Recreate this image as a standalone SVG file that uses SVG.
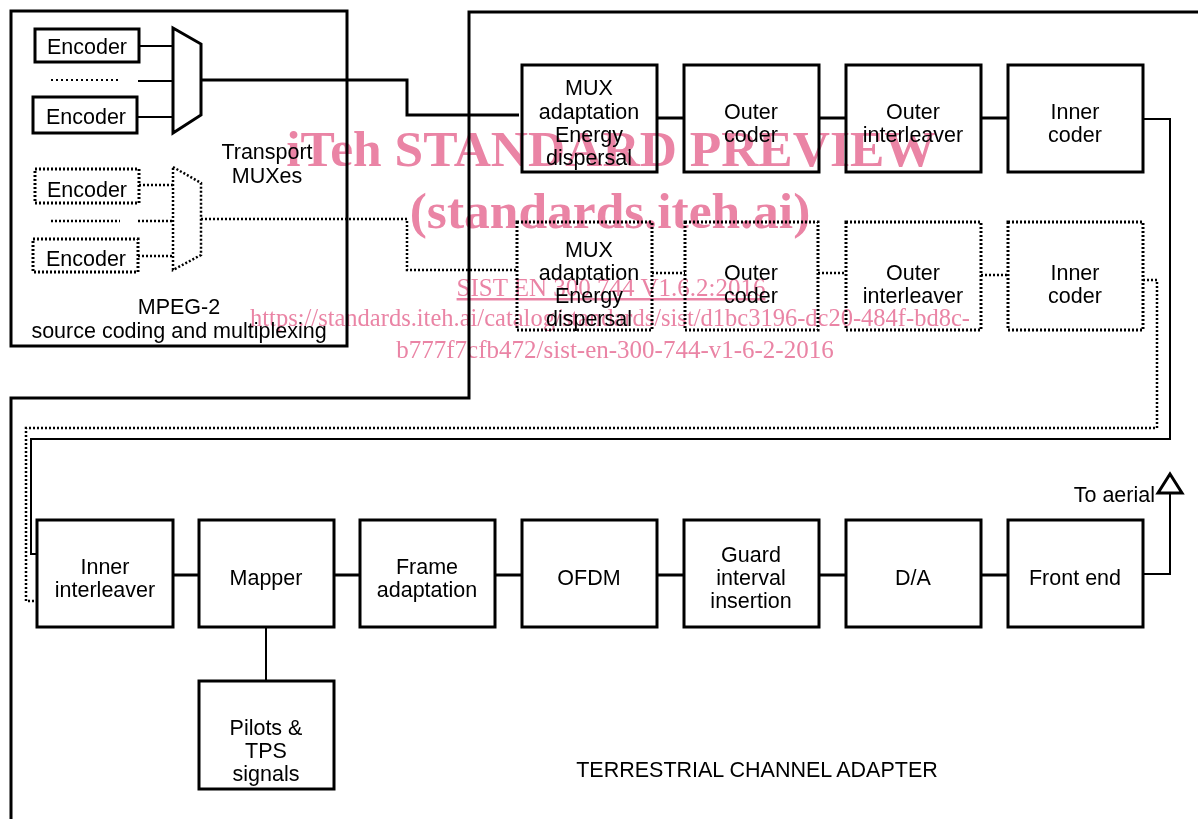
<svg xmlns="http://www.w3.org/2000/svg" width="1198" height="819" viewBox="0 0 1198 819">
<style>
.box{fill:#fff;stroke:#000;stroke-width:3}
.dbox{fill:#fff;stroke:#000;stroke-width:3;stroke-dasharray:2 2}
.ln{fill:none;stroke:#000;stroke-width:2}
.thk{fill:none;stroke:#000;stroke-width:3}
.dln{fill:none;stroke:#000;stroke-width:2.5;stroke-dasharray:2 2}
text{font-family:"Liberation Sans",Arial,sans-serif;font-size:21.5px;fill:#000;text-anchor:middle}
text.wm{font-family:"Liberation Serif","Times New Roman",serif;fill:#ea84a5}
#watermark{mix-blend-mode:multiply}
text.big{font-size:51.5px;font-weight:bold}
text.sm{font-size:25px}
</style>
<rect width="1198" height="819" fill="#fff"/>
<g id="frames">
<rect x="11" y="11" width="336" height="335" class="box" fill="none"/>
<path d="M1198 12 H469 V398 H11 V819" class="thk"/>
</g>
<g id="connectors">
<path d="M139 46 H173 M138 81 H173 M137 117 H173" class="ln"/>
<path d="M51 80 H118" class="ln" stroke-dasharray="2 3"/>
<path d="M201 80 H407 V115 H519" class="thk"/>
<path d="M139 185 H173 M138 221 H173 M138 256 H173 M51 221 H120" class="dln"/>
<path d="M201 219 H407 V270 H517" class="dln"/>
<path d="M657 118 H684 M819 118 H846 M981 118 H1008" class="thk"/>
<path d="M652 273 H685 M818 273 H846 M981 275 H1007" class="dln"/>
<path d="M1143 119 H1170 V439 H31 V554 H37" class="ln"/>
<path d="M1143 280 H1157 V428 H26 V601 H37" class="dln"/>
<path d="M173 575 H199 M334 575 H360 M495 575 H522 M657 575 H684 M819 575 H846 M981 575 H1008" class="thk"/>
<path d="M1143 574 H1170 V493" class="ln"/>
<polygon points="1158,493 1182,493 1170,474" fill="#fff" stroke="#000" stroke-width="3"/>
<path d="M266 627 V681" class="ln"/>
</g>
<g id="enc1"><rect x="35" y="29" width="104" height="33" class="box"/><text x="87" y="54">Encoder</text></g>
<g id="enc2"><rect x="33" y="97" width="104" height="36" class="box"/><text x="86" y="124">Encoder</text></g>
<g id="enc3"><rect x="35" y="169" width="104" height="34" class="dbox"/><text x="87" y="197">Encoder</text></g>
<g id="enc4"><rect x="33" y="239" width="105" height="33" class="dbox"/><text x="86" y="266">Encoder</text></g>
<g id="mux1"><polygon points="173,28 201,44 201,115 173,133" fill="#fff" stroke="#000" stroke-width="3"/></g>
<g id="mux2"><polygon points="173,167 201,183 201,255 173,270" fill="#fff" stroke="#000" stroke-width="2.5" stroke-dasharray="2 2"/></g>
<g id="lbl-mpeg">
<text x="267" y="159">Transport</text><text x="267" y="183">MUXes</text>
<text x="179" y="314">MPEG-2</text><text x="179" y="338">source coding and multiplexing</text>
</g>
<g id="muxad"><rect x="522" y="65" width="135" height="107" class="box"/><text x="589" y="95">MUX</text><text x="589" y="119">adaptation</text><text x="589" y="142">Energy</text><text x="589" y="165">dispersal</text></g>
<g id="outc"><rect x="684" y="65" width="135" height="107" class="box"/><text x="751" y="119">Outer</text><text x="751" y="142">coder</text></g>
<g id="outi"><rect x="846" y="65" width="135" height="107" class="box"/><text x="913" y="119">Outer</text><text x="913" y="142">interleaver</text></g>
<g id="innc"><rect x="1008" y="65" width="135" height="107" class="box"/><text x="1075" y="119">Inner</text><text x="1075" y="142">coder</text></g>
<g id="muxad2"><rect x="517" y="222" width="135" height="108" class="dbox"/><text x="589" y="257">MUX</text><text x="589" y="280">adaptation</text><text x="589" y="303">Energy</text><text x="589" y="326">dispersal</text></g>
<g id="outc2"><rect x="685" y="222" width="133" height="108" class="dbox"/><text x="751" y="280">Outer</text><text x="751" y="303">coder</text></g>
<g id="outi2"><rect x="846" y="222" width="135" height="108" class="dbox"/><text x="913" y="280">Outer</text><text x="913" y="303">interleaver</text></g>
<g id="innc2"><rect x="1008" y="222" width="135" height="108" class="dbox"/><text x="1075" y="280">Inner</text><text x="1075" y="303">coder</text></g>
<g id="inni"><rect x="37" y="520" width="136" height="107" class="box"/><text x="105" y="574">Inner</text><text x="105" y="597">interleaver</text></g>
<g id="mapper"><rect x="199" y="520" width="135" height="107" class="box"/><text x="266" y="585">Mapper</text></g>
<g id="frame"><rect x="360" y="520" width="135" height="107" class="box"/><text x="427" y="574">Frame</text><text x="427" y="597">adaptation</text></g>
<g id="ofdm"><rect x="522" y="520" width="135" height="107" class="box"/><text x="589" y="585">OFDM</text></g>
<g id="guard"><rect x="684" y="520" width="135" height="107" class="box"/><text x="751" y="562">Guard</text><text x="751" y="585">interval</text><text x="751" y="608">insertion</text></g>
<g id="da"><rect x="846" y="520" width="135" height="107" class="box"/><text x="913" y="585">D/A</text></g>
<g id="front"><rect x="1008" y="520" width="135" height="107" class="box"/><text x="1075" y="585">Front end</text></g>
<g id="pilots"><rect x="199" y="681" width="135" height="108" class="box"/><text x="266" y="735">Pilots &amp;</text><text x="266" y="758">TPS</text><text x="266" y="781">signals</text></g>
<g id="labels">
<text x="1155" y="502" style="text-anchor:end">To aerial</text>
<text x="757" y="777">TERRESTRIAL CHANNEL ADAPTER</text>
</g>
<g id="watermark">
<text class="wm big" x="611" y="166">iTeh STANDARD PREVIEW</text>
<text class="wm big" x="610" y="228">(standards.iteh.ai)</text>
<text class="wm sm" x="611" y="296" text-decoration="underline">SIST EN 300 744 V1.6.2:2016</text>
<text class="wm sm" x="610" y="326" style="font-size:24.5px">https://standards.iteh.ai/catalog/standards/sist/d1bc3196-dc20-484f-bd8c-</text>
<text class="wm sm" x="615" y="358">b777f7cfb472/sist-en-300-744-v1-6-2-2016</text>
</g>
</svg>
